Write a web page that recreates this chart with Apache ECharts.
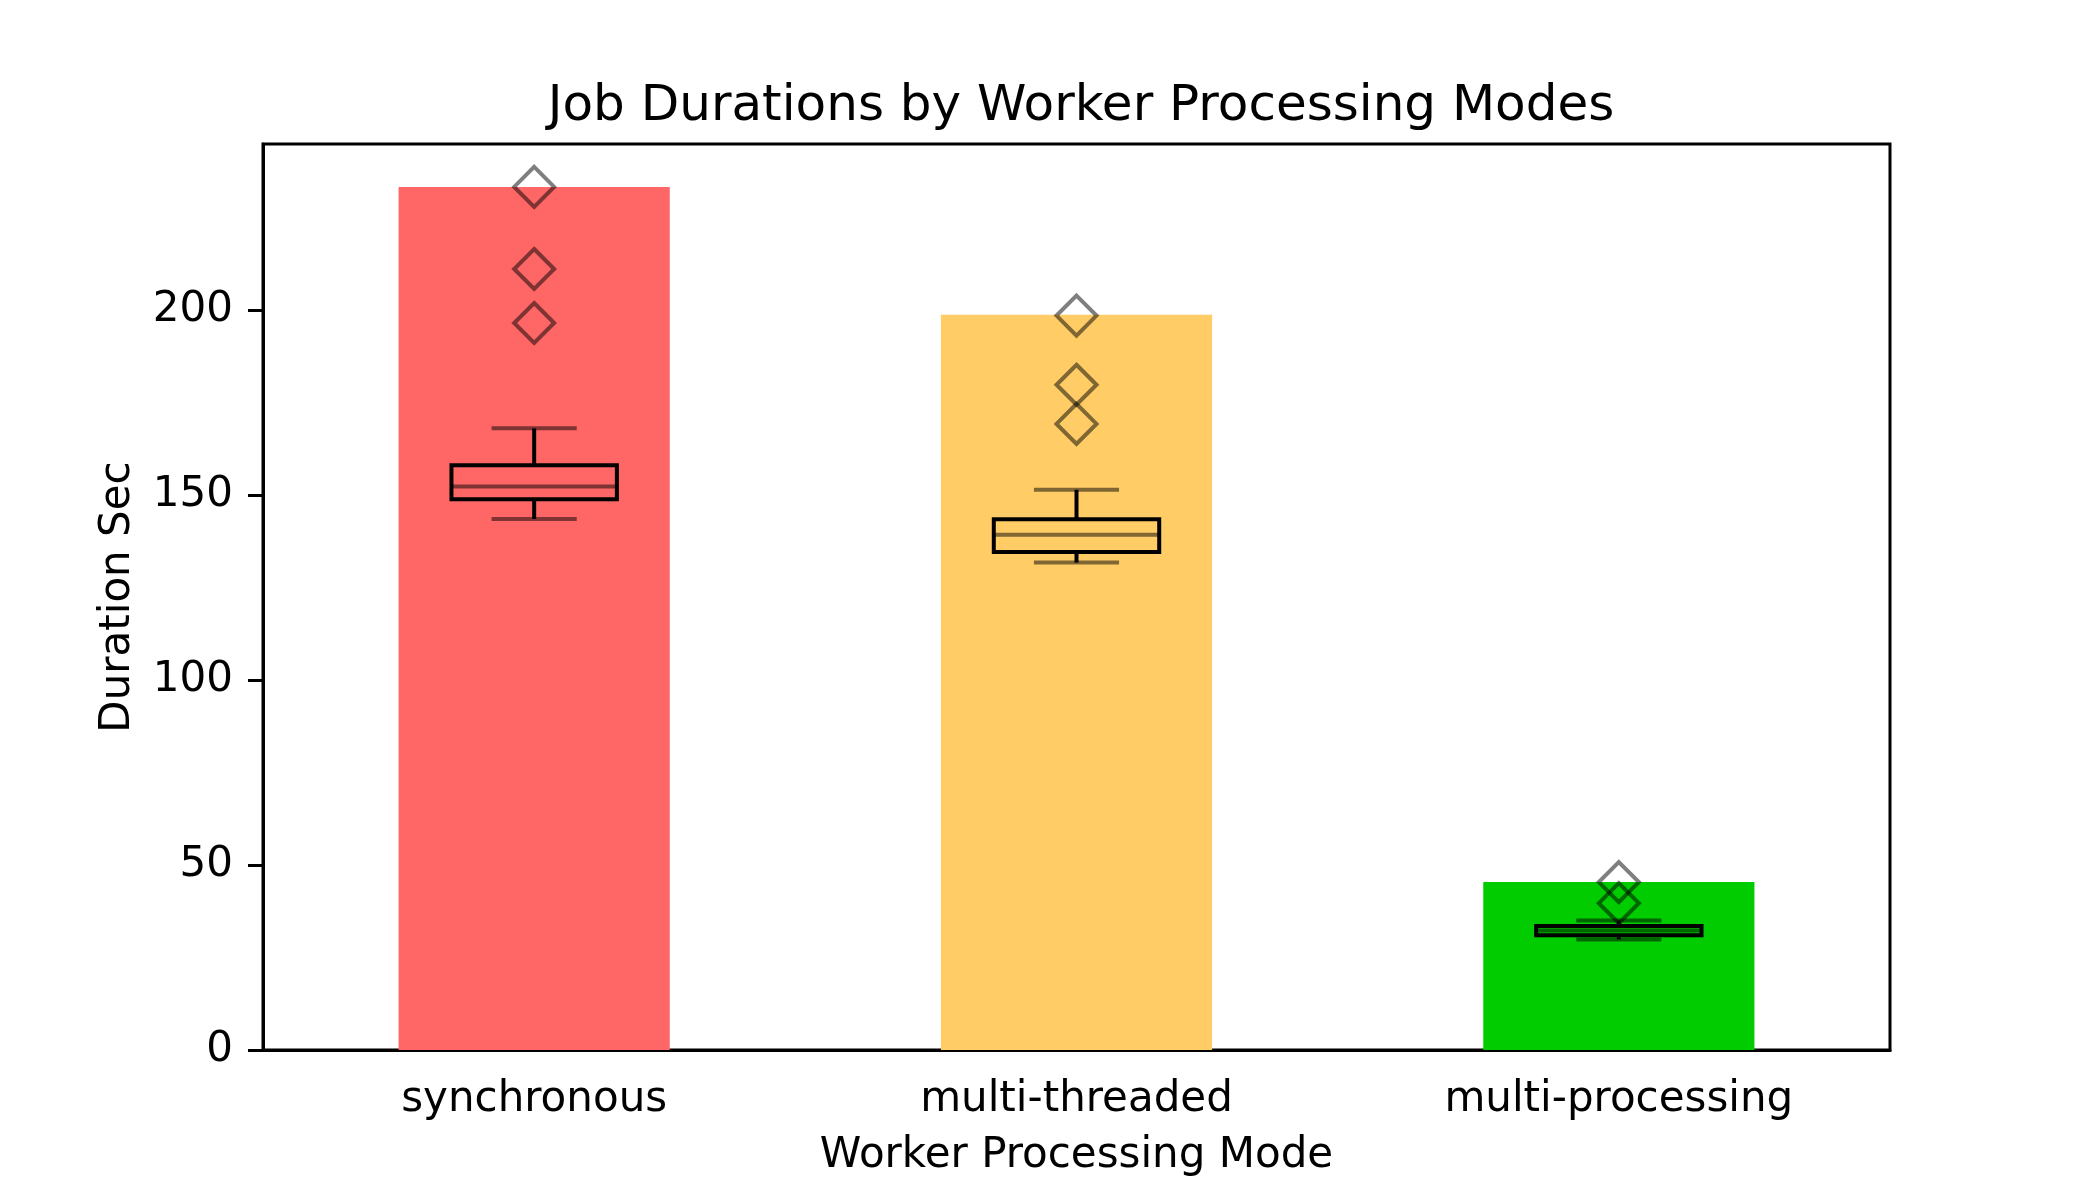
<!DOCTYPE html>
<html>
<head>
<meta charset="utf-8">
<script src="https://cdn.jsdelivr.net/npm/echarts@6/dist/echarts.min.js"></script>
<style>html,body{margin:0;padding:0;background:#fff}#c{width:2100px;height:1200px}</style>
</head>
<body>
<div id="c"></div>
<script>
const categories = ['synchronous', 'multi-threaded', 'multi-processing'];
const barValues = [233.4, 198.8, 45.4];
const barColors = ['#FF6666', '#FFCC66', '#00CC00'];
// [whiskerLow, q1, median, q3, whiskerHigh]
const boxSync = [143.6, 148.9, 152.4, 158.1, 168.1];
const boxThreaded = [131.8, 134.7, 139.3, 143.5, 151.5];
const boxProcessing = [29.9, 31.0, 32.3, 33.5, 35.0];
const outliersSync = [233.4, 211.2, 196.6];
const outliersThreaded = [198.6, 179.9, 169.3];
const outliersProcessing = [45.4, 39.7];
const yTicks = [0, 50, 100, 150, 200];

const boxes = [boxSync, boxThreaded, boxProcessing];
const outliers = [outliersSync, outliersThreaded, outliersProcessing];
const boxData = boxes.map((b, i) => [i].concat(b));
const outlierData = [];
outliers.forEach((arr, i) => arr.forEach(v => outlierData.push([i, v])));

const FONT = 'DejaVu Sans';
const chart = echarts.init(document.getElementById('c'));
chart.setOption({
  animation: false,
  title: {
    text: 'Job Durations by Worker Processing Modes',
    left: 1076, textAlign: 'center', top: 77,
    textStyle: { fontFamily: FONT, fontSize: 50, fontWeight: 'normal', color: '#000' }
  },
  grid: { left: 263, right: 210, top: 144, bottom: 150, show: true, borderColor: '#000', borderWidth: 3, backgroundColor: 'transparent' },
  xAxis: {
    type: 'category', data: categories, boundaryGap: true,
    name: 'Worker Processing Mode', nameLocation: 'middle', nameGap: 85,
    nameTextStyle: { fontFamily: FONT, fontSize: 42, color: '#000' },
    axisLine: { lineStyle: { color: '#000', width: 3 } },
    axisTick: { alignWithLabel: true, length: 15, lineStyle: { color: '#000', width: 3 } },
    axisLabel: { fontFamily: FONT, fontSize: 42, color: '#000', margin: 29 },
    splitLine: { show: false }
  },
  yAxis: {
    type: 'value', min: 0, max: 245, interval: 50,
    name: 'Duration Sec', nameLocation: 'middle', nameGap: 124, nameRotate: 90,
    nameTextStyle: { fontFamily: FONT, fontSize: 42, color: '#000' },
    axisLine: { show: true, lineStyle: { color: '#000', width: 3 } },
    axisTick: { show: true, length: 15, customValues: yTicks, lineStyle: { color: '#000', width: 3 } },
    axisLabel: { fontFamily: FONT, fontSize: 42, color: '#000', margin: 30, customValues: yTicks },
    splitLine: { show: false }
  },
  series: [
    {
      type: 'bar', barWidth: '50%', z: 1,
      data: barValues.map((v, i) => ({ value: v, itemStyle: { color: barColors[i] } }))
    },
    {
      type: 'custom', z: 3,
      data: boxData,
      encode: { x: 0, y: [1, 2, 3, 4, 5] },
      renderItem: function (params, api) {
        const idx = api.value(0);
        const band = api.size([1, 0])[0];
        const bw = band * 0.305, cw = band * 0.157;
        const pLow = api.coord([idx, api.value(1)]);
        const pQ1 = api.coord([idx, api.value(2)]);
        const pMed = api.coord([idx, api.value(3)]);
        const pQ3 = api.coord([idx, api.value(4)]);
        const pHigh = api.coord([idx, api.value(5)]);
        const cx = pLow[0];
        const solid = { stroke: '#000', lineWidth: 4, fill: null };
        const faded = { stroke: 'rgba(0,0,0,0.5)', lineWidth: 4, fill: null };
        return {
          type: 'group',
          children: [
            { type: 'line', shape: { x1: cx - cw / 2, y1: pLow[1], x2: cx + cw / 2, y2: pLow[1] }, style: faded },
            { type: 'line', shape: { x1: cx - cw / 2, y1: pHigh[1], x2: cx + cw / 2, y2: pHigh[1] }, style: faded },
            { type: 'line', shape: { x1: cx - bw / 2, y1: pMed[1], x2: cx + bw / 2, y2: pMed[1] }, style: faded },
            { type: 'line', shape: { x1: cx, y1: pLow[1], x2: cx, y2: pQ1[1] }, style: solid },
            { type: 'line', shape: { x1: cx, y1: pQ3[1], x2: cx, y2: pHigh[1] }, style: solid },
            { type: 'rect', shape: { x: cx - bw / 2, y: pQ3[1], width: bw, height: pQ1[1] - pQ3[1] }, style: solid }
          ]
        };
      }
    },
    {
      type: 'scatter', z: 4,
      symbol: 'diamond', symbolSize: [40, 40],
      data: outlierData,
      itemStyle: { color: 'transparent', borderColor: 'rgba(0,0,0,0.5)', borderWidth: 4, opacity: 1 }
    }
  ]
});
</script>
</body>
</html>
